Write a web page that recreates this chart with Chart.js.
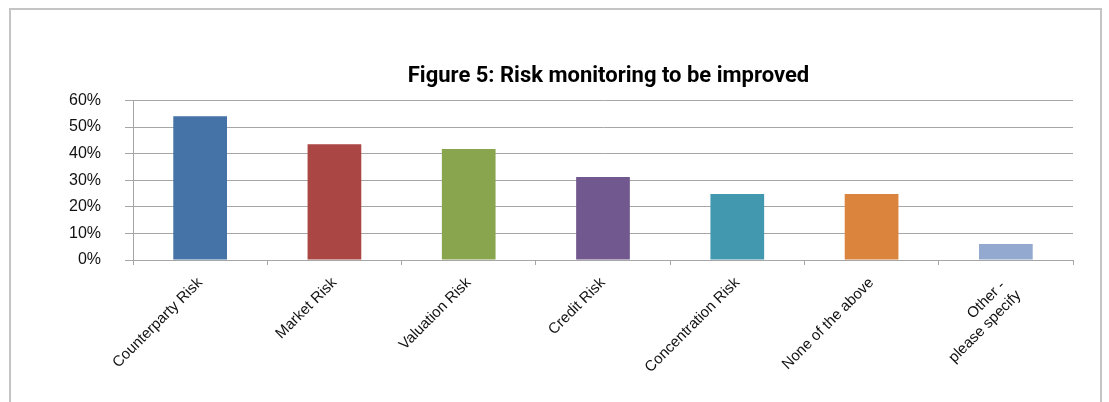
<!DOCTYPE html>
<html>
<head>
<meta charset="utf-8">
<script src="https://cdn.jsdelivr.net/npm/chart.js@4/dist/chart.umd.min.js"></script>
<style>
  html, body { margin: 0; padding: 0; background: #fff; overflow: hidden; }
  #wrap { position: relative; width: 1109px; height: 402px; }
  #frame {
    position: absolute; left: 9px; top: 8px; width: 1089px; height: 420px;
    border: 2px solid #c4c4c4; pointer-events: none;
  }
</style>
</head>
<body>
<div id="wrap">
  <canvas id="chart" width="1109" height="402"></canvas>
  <div id="frame"></div>
</div>
<script>
const categories = [
  'Counterparty Risk',
  'Market Risk',
  'Valuation Risk',
  'Credit Risk',
  'Concentration Risk',
  'None of the above',
  ['Other - ', 'please specify']
];
const values = [54, 43.5, 41.7, 31.2, 24.8, 24.8, 6];
const barColors = ['#4572A7', '#AA4643', '#89A54E', '#71588F', '#4198AF', '#DB843D', '#93A9CF'];
const yTicks = [0, 10, 20, 30, 40, 50, 60];

const gridGray = '#a6a6a6';

new Chart(document.getElementById('chart'), {
  type: 'bar',
  data: {
    labels: categories,
    datasets: [{
      data: values,
      backgroundColor: barColors,
      borderWidth: 0,
      barPercentage: 0.4,
      categoryPercentage: 1
    }]
  },
  options: {
    responsive: false,
    animation: false,
    layout: { padding: { left: 0, right: 36, top: 0, bottom: 0 } },
    plugins: {
      legend: { display: false },
      tooltip: { enabled: false },
      title: {
        display: true,
        text: '  Figure 5: Risk monitoring to be improved',
        fullSize: false,
        color: '#000',
        font: { family: 'Roboto, "Liberation Sans", Arial', size: 22, weight: 'bold', lineHeight: 1.2 },
        padding: { top: 63, bottom: 11 }
      }
    },
    scales: {
      x: {
        grid: {
          offset: true,
          drawOnChartArea: false,
          drawTicks: true,
          tickLength: 5,
          color: gridGray
        },
        border: { color: gridGray, width: 1 },
        ticks: {
          color: '#111',
          font: { family: '"Liberation Sans", Arial', size: 15 },
          minRotation: 45,
          maxRotation: 45,
          autoSkip: false,
          padding: 9
        },
        afterFit: (scale) => { scale.height = 142; }
      },
      y: {
        min: 0,
        max: 60,
        afterBuildTicks: (scale) => { scale.ticks = yTicks.map(v => ({ value: v })); },
        grid: {
          color: gridGray,
          tickLength: 8
        },
        border: { color: gridGray, width: 1 },
        ticks: {
          color: '#111',
          font: { family: '"Liberation Sans", Arial', size: 16 },
          padding: 24,
          callback: (v) => v + '%'
        },
        afterFit: (scale) => { scale.width = 133; }
      }
    }
  }
});
</script>
</body>
</html>
